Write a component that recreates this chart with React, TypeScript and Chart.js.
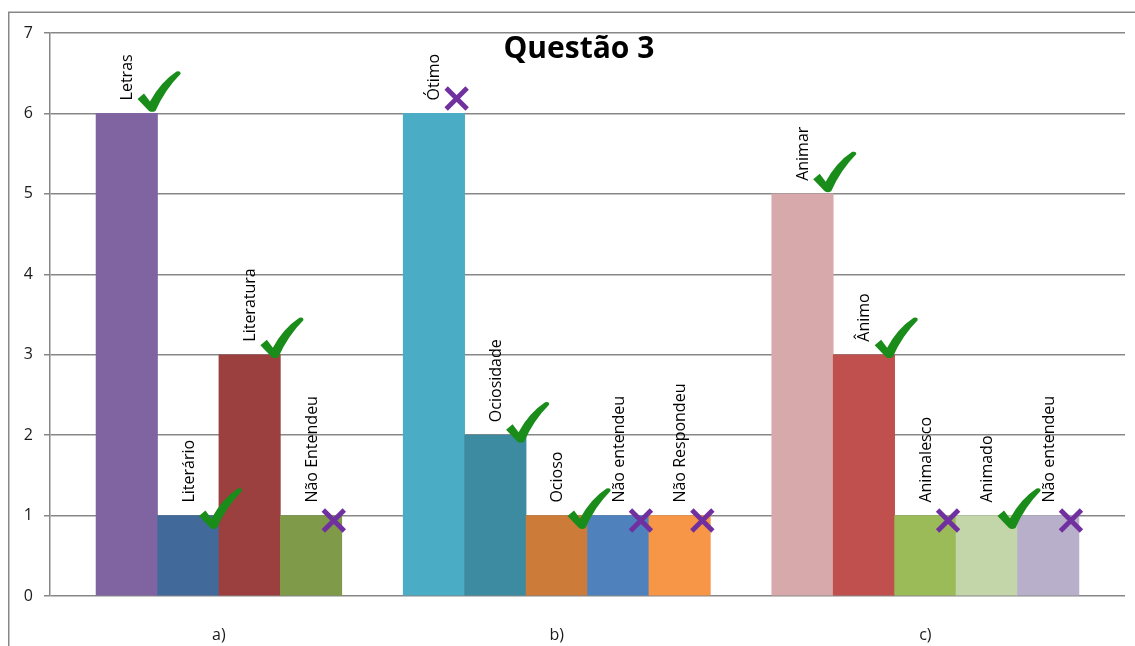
import React, { useEffect, useRef } from "react";
import { Chart, registerables } from "chart.js";

Chart.register(...registerables);

// ---- data ----
const groups = ["a)", "b)", "c)"];

const labelsA = ["Letras", "Literário", "Literatura", "Não Entendeu"];
const valuesA = [6, 1, 3, 1];
const marksA = ["check", "check", "check", "cross"];
const colorsA = ["#8064A2", "#416A9B", "#9C403F", "#7F9A48"];

const labelsB = ["Ótimo", "Ociosidade", "Ocioso", "Não entendeu", "Não Respondeu"];
const valuesB = [6, 2, 1, 1, 1];
const marksB = ["cross", "check", "check", "cross", "cross"];
const colorsB = ["#4BACC6", "#3C8BA1", "#CC7B38", "#4F81BD", "#F79646"];

const labelsC = ["Animar", "Ânimo", "Animalesco", "Animado", "Não entendeu"];
const valuesC = [5, 3, 1, 1, 1];
const marksC = ["check", "check", "cross", "check", "cross"];
const colorsC = ["#D8A9AA", "#C0504D", "#9BBB59", "#C3D6A9", "#B8AFCA"];

const yMin = 0;
const yMax = 7;
const title = "Questão 3";

// ---- build bar table ----
type Bar = { x: number; y: number; label: string; mark: string; color: string; group: number };
const groupDefs = [
  { labels: labelsA, values: valuesA, marks: marksA, colors: colorsA },
  { labels: labelsB, values: valuesB, marks: marksB, colors: colorsB },
  { labels: labelsC, values: valuesC, marks: marksC, colors: colorsC },
];
const bars: Bar[] = [];
const groupCenters: number[] = [];
{
  let slot = 0;
  groupDefs.forEach((g, gi) => {
    const start = slot;
    g.values.forEach((v, i) => {
      bars.push({ x: slot + 0.5, y: v, label: g.labels[i], mark: g.marks[i], color: g.colors[i], group: gi });
      slot += 1;
    });
    groupCenters.push((start + slot) / 2);
    slot += 1; // gap between groups
  });
}
const lastSlot = bars[bars.length - 1].x + 0.5;

const FONT = "'Open Sans', 'DejaVu Sans', sans-serif";
const GRID = "#878787";

function drawCheck(ctx: CanvasRenderingContext2D, vx: number, vy: number) {
  ctx.save();
  ctx.translate(vx, vy);
  ctx.fillStyle = "#1A8C1A";
  ctx.beginPath();
  ctx.moveTo(-12, -12.5);
  ctx.lineTo(-5.5, -18);
  ctx.lineTo(0.5, -10);
  ctx.quadraticCurveTo(11, -29.5, 27, -40);
  ctx.quadraticCurveTo(31.5, -41, 31, -37.5);
  ctx.quadraticCurveTo(15.5, -22, 6, -0.5);
  ctx.quadraticCurveTo(2.5, 1.2, -0.5, -0.5);
  ctx.closePath();
  ctx.fill();
  ctx.restore();
}

function drawCross(ctx: CanvasRenderingContext2D, cx: number, cy: number) {
  const h = 10.5;
  ctx.save();
  ctx.strokeStyle = "#7030A0";
  ctx.lineWidth = 4.8;
  ctx.lineCap = "butt";
  ctx.beginPath();
  ctx.moveTo(cx - h, cy - h);
  ctx.lineTo(cx + h, cy + h);
  ctx.moveTo(cx + h, cy - h);
  ctx.lineTo(cx - h, cy + h);
  ctx.stroke();
  ctx.restore();
}

const framePlugin = {
  id: "frame",
  beforeDraw(chart: any) {
    const ctx = chart.ctx;
    ctx.save();
    ctx.fillStyle = "#ffffff";
    ctx.fillRect(0, 0, chart.width, chart.height);
    ctx.strokeStyle = GRID;
    ctx.lineWidth = 1.5;
    ctx.strokeRect(8.75, 12.25, chart.width + 20, chart.height + 20);
    ctx.restore();
  },
};

const annotPlugin = {
  id: "annot",
  afterDatasetsDraw(chart: any) {
    const ctx = chart.ctx;
    const meta = chart.getDatasetMeta(0);
    const area = chart.chartArea;
    ctx.save();
    // title
    ctx.fillStyle = "#000";
    ctx.font = `bold 30px ${FONT}`;
    ctx.textAlign = "center";
    ctx.textBaseline = "middle";
    ctx.fillText(title, area.left + area.width * 0.492, area.top + 16);
    // rotated labels
    ctx.font = `16px ${FONT}`;
    ctx.textAlign = "left";
    meta.data.forEach((el: any, i: number) => {
      ctx.save();
      ctx.translate(el.x + 1, el.y - 13);
      ctx.rotate(-Math.PI / 2);
      ctx.fillText(bars[i].label, 0, 0);
      ctx.restore();
    });
    // marks
    meta.data.forEach((el: any, i: number) => {
      const b = bars[i];
      const right = el.x + el.width / 2;
      if (b.mark === "check") {
        const dy = b.y <= 1 ? 13 : b.y <= 2 ? 7 : b.y <= 3 ? 3 : -2;
        drawCheck(ctx, right - 8, el.y + dy);
      } else {
        const dy = b.y <= 3 ? 5 : -15;
        drawCross(ctx, right - 8, el.y + dy);
      }
    });
    ctx.restore();
  },
};

export default function App() {
  const ref = useRef<HTMLCanvasElement | null>(null);
  useEffect(() => {
    if (!ref.current) return;
    const chart = new Chart(ref.current, {
      type: "bar",
      data: {
        datasets: [
          {
            data: bars.map((b) => ({ x: b.x, y: b.y })),
            backgroundColor: bars.map((b) => b.color),
            borderWidth: 0,
            barPercentage: 1,
            categoryPercentage: 1,
          },
        ],
      },
      options: {
        animation: false,
        responsive: false,
        devicePixelRatio: 1,
        layout: { padding: { left: 0, top: 33, right: 10, bottom: 0 } },
        plugins: { legend: { display: false }, tooltip: { enabled: false }, title: { display: false } },
        scales: {
          x: {
            type: "linear",
            offset: false,
            min: -0.75,
            max: lastSlot + 0.75,
            grid: { display: false, drawTicks: false },
            border: { display: false },
            afterBuildTicks: (scale: any) => {
              scale.ticks = groupCenters.map((v) => ({ value: v }));
            },
            afterFit: (scale: any) => {
              scale.height = 50;
            },
            ticks: {
              autoSkip: false,
              maxRotation: 0,
              padding: 30,
              color: "#1a1a1a",
              font: { family: FONT, size: 16 },
              callback: (_v: any, i: number) => groups[i],
            },
          },
          y: {
            min: yMin,
            max: yMax,
            grid: { color: GRID, lineWidth: 1.5, tickLength: 6, drawTicks: true },
            border: { display: true, color: GRID, width: 1.5 },
            afterFit: (scale: any) => {
              scale.width = 50;
            },
            ticks: {
              stepSize: 1,
              padding: 11,
              color: "#1a1a1a",
              font: { family: FONT, size: 16 },
            },
          },
        },
      },
      plugins: [framePlugin, annotPlugin],
    });
    return () => chart.destroy();
  }, []);
  return (
    <div style={{ position: "fixed", left: 0, top: 0, width: 1135, height: 646, background: "#fff" }}>
      <canvas ref={ref} width={1135} height={646} style={{ display: "block" }} />
    </div>
  );
}
